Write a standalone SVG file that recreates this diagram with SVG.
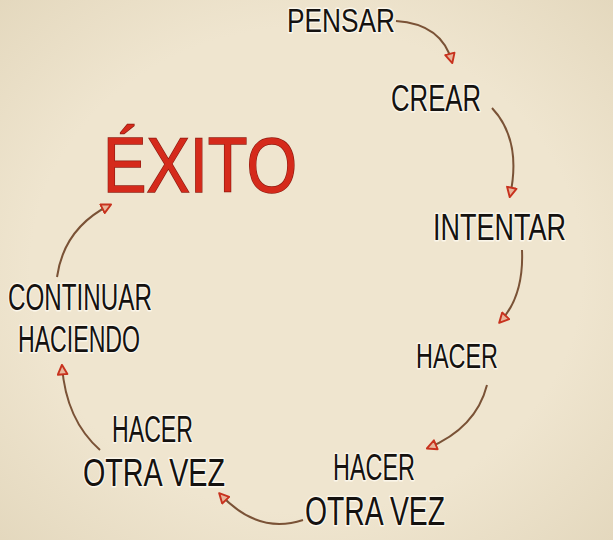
<svg xmlns="http://www.w3.org/2000/svg" width="613" height="540" viewBox="0 0 613 540">
<defs>
<style>
.lbl{font-family:"Liberation Sans","DejaVu Sans",sans-serif;fill:#151210;stroke:#fbf6ea;stroke-width:3;paint-order:stroke;stroke-linejoin:round}
.big{font-family:"Liberation Sans","DejaVu Sans",sans-serif;fill:#d52a1b;stroke:#8e1a10;stroke-width:1.5;paint-order:stroke}
.con{fill:none;stroke:#7a5236;stroke-width:2;marker-end:url(#ah)}
</style>
<marker id="ah" viewBox="0 0 10 10" refX="8" refY="5" markerWidth="12" markerHeight="12" markerUnits="userSpaceOnUse" orient="auto">
<path d="M1,1 L9,5 L1,9 Z" fill="#e8b59a" stroke="#c8321e" stroke-width="1.6" stroke-linejoin="round"/>
</marker>
<radialGradient id="bg" cx="50%" cy="50%" r="75%">
<stop offset="0.6" stop-color="#efe5cf"/>
<stop offset="1" stop-color="#e2d6bb"/>
</radialGradient>
</defs>
<rect width="613" height="540" fill="url(#bg)"/>
<g id="connectors">
<path class="con" d="M396,21 Q442,24 452,62"/>
<path class="con" d="M492,108 Q522,140 510,196"/>
<path class="con" d="M522,250 Q524,296 500,322"/>
<path class="con" d="M487,385 Q476,428 428,448"/>
<path class="con" d="M303,520 Q258,535 220,494"/>
<path class="con" d="M100,450 Q66,420 62,366"/>
<path class="con" d="M57,277 Q64,228 110,205"/>
</g>
<g id="exito"><text class="big" x="103" y="192" font-size="77" textLength="194" lengthAdjust="spacingAndGlyphs">ÉXITO</text></g>
<g id="pensar"><text class="lbl" x="287" y="32" font-size="33" textLength="108" lengthAdjust="spacingAndGlyphs">PENSAR</text></g>
<g id="crear"><text class="lbl" x="391" y="111" font-size="36" textLength="90" lengthAdjust="spacingAndGlyphs">CREAR</text></g>
<g id="intentar"><text class="lbl" x="433" y="240" font-size="37" textLength="133" lengthAdjust="spacingAndGlyphs">INTENTAR</text></g>
<g id="hacer"><text class="lbl" x="416" y="368" font-size="35" textLength="82" lengthAdjust="spacingAndGlyphs">HACER</text></g>
<g id="hacer-otra-vez-1">
<text class="lbl" x="333" y="480" font-size="37" textLength="82" lengthAdjust="spacingAndGlyphs">HACER</text>
<text class="lbl" x="305" y="525" font-size="40" textLength="140" lengthAdjust="spacingAndGlyphs">OTRA VEZ</text>
</g>
<g id="hacer-otra-vez-2">
<text class="lbl" x="112" y="442" font-size="36" textLength="81" lengthAdjust="spacingAndGlyphs">HACER</text>
<text class="lbl" x="83" y="486" font-size="39" textLength="142" lengthAdjust="spacingAndGlyphs">OTRA VEZ</text>
</g>
<g id="continuar-haciendo">
<text class="lbl" x="8" y="310" font-size="37" textLength="144" lengthAdjust="spacingAndGlyphs">CONTINUAR</text>
<text class="lbl" x="18" y="352" font-size="37" textLength="122" lengthAdjust="spacingAndGlyphs">HACIENDO</text>
</g>
</svg>
